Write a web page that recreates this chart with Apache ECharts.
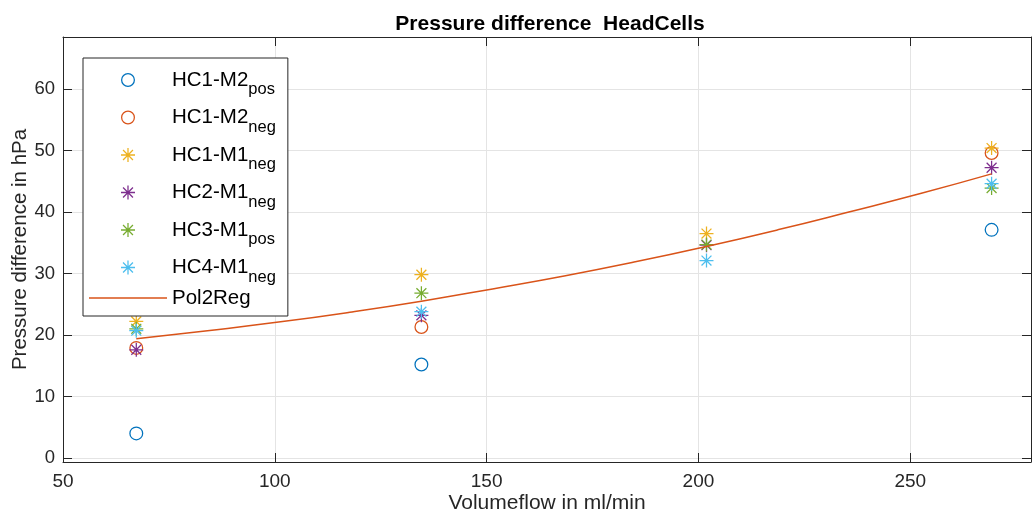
<!DOCTYPE html>
<html><head><meta charset="utf-8">
<script src="https://cdn.jsdelivr.net/npm/echarts@6/dist/echarts.min.js"></script>
<style>html,body{margin:0;padding:0;background:#fff}#c{width:1032px;height:521px}</style>
</head><body><div id="c"></div>
<script>
// ---- data ----
const flows = [67.3, 134.6, 201.9, 269.2];
const seriesBase = ['HC1-M2', 'HC1-M2', 'HC1-M1', 'HC2-M1', 'HC3-M1', 'HC4-M1'];
const seriesSub  = ['pos', 'neg', 'neg', 'neg', 'pos', 'neg'];
const hc1m2pos = [4.0, 15.2, null, 37.1];
const hc1m2neg = [17.9, 21.3, null, 49.6];
const hc1m1neg = [22.2, 29.8, 36.5, 50.4];
const hc2m1neg = [17.6, 23.2, 34.6, 47.2];
const hc3m1pos = [21.0, 26.8, 34.7, 43.9];
const hc4m1neg = [20.7, 23.8, 32.1, 44.6];
const regX = [67.3, 84.1, 100.9, 117.7, 134.6, 151.4, 168.3, 185.1, 201.9, 218.7, 235.5, 252.4, 269.2];
const regY = [19.4, 20.7, 22.1, 23.7, 25.5, 27.5, 29.6, 31.9, 34.4, 37.1, 40.0, 43.0, 46.2];
const regName = 'Pol2Reg';
const xTitle = 'Volumeflow in ml/min';
const yTitle = 'Pressure difference in hPa';
const chartTitle = 'Pressure difference  HeadCells';

// ---- styling ----
const FONT = 'Liberation Sans';
const colors = ['#0072BD', '#D95319', '#EDB120', '#7E2F8E', '#77AC30', '#4DBEEE'];
const RING = 'path://M0 10A10 10 0 1 1 20 10A10 10 0 1 1 0 10ZM1.8 10A8.2 8.2 0 1 0 18.2 10A8.2 8.2 0 1 0 1.8 10Z';
const STAR = 'path://M9.1 0H10.9V20H9.1ZM0 9.1H20V10.9H0ZM3.57 2.29L17.71 16.43L16.43 17.71L2.29 3.57ZM17.71 3.57L3.57 17.71L2.29 16.43L16.43 2.29Z';
const LINEICON = 'path://M0 0H78V1.5H0Z';
const symbols = [RING, RING, STAR, STAR, STAR, STAR];
const values = [hc1m2pos, hc1m2neg, hc1m1neg, hc2m1neg, hc3m1pos, hc4m1neg];

const names = seriesBase.map((b, i) => b + seriesSub[i]);
const richMap = {};
names.forEach((n, i) => { richMap[n] = '{m|' + seriesBase[i] + '}{s|' + seriesSub[i] + '}'; });

const scatterSeries = values.map((vals, i) => ({
  name: names[i],
  type: 'scatter',
  symbol: symbols[i],
  symbolSize: 14,
  itemStyle: { color: colors[i], opacity: 1 },
  emphasis: { disabled: true },
  data: flows.map((x, k) => [x, vals[k]]).filter(p => p[1] !== null)
}));

const lineSeries = {
  name: regName,
  type: 'line',
  smooth: true,
  symbol: 'none',
  lineStyle: { color: '#D95319', width: 1.5 },
  itemStyle: { color: '#D95319' },
  emphasis: { disabled: true },
  data: regX.map((x, k) => [x, regY[k]])
};

const axisCol = '#262626';
const gridCol = '#e4e4e4';

const chart = echarts.init(document.getElementById('c'), null, { renderer: 'canvas' });
chart.setOption({
  animation: false,
  backgroundColor: '#fff',
  title: {
    text: chartTitle, left: 550, top: 14, textAlign: 'center', padding: 0,
    textStyle: { fontFamily: FONT, fontSize: 21, fontWeight: 'bold', color: '#000' }
  },
  grid: { left: 63, right: 1, top: 37, bottom: 59, containLabel: false, outerBoundsMode: 'none' },
  legend: {
    orient: 'vertical', left: 83, top: 58, padding: [4, 12, 7, 6],
    itemWidth: 78, itemHeight: 14, itemGap: 1.5,
    backgroundColor: '#fff', borderColor: axisCol, borderWidth: 1, borderRadius: 0,
    selectedMode: false,
    data: names.map(n => ({ name: n })).concat([{ name: regName, icon: LINEICON, itemStyle: { color: '#D95319' } }]),
    formatter: function (n) { return richMap[n] || n; },
    textStyle: {
      fontFamily: FONT, fontSize: 20.5, lineHeight: 22, color: '#000',
      rich: {
        m: { fontFamily: FONT, fontSize: 20.5, lineHeight: 22, color: '#000' },
        s: { fontFamily: FONT, fontSize: 16.5, lineHeight: 16, padding: [19, 0, 0, 0], color: '#000' }
      }
    }
  },
  xAxis: [{
    type: 'value', min: 50, max: 278.5, interval: 50, position: 'bottom',
    name: xTitle, nameLocation: 'middle', nameGap: 31, nameMoveOverlap: false,
    nameTextStyle: { fontFamily: FONT, fontSize: 21, color: axisCol },
    axisLine: { show: true, onZero: false, lineStyle: { color: axisCol, width: 1 } },
    axisTick: { show: true, inside: true, length: 9, lineStyle: { color: axisCol } },
    axisLabel: { margin: 10, color: axisCol, fontFamily: FONT, fontSize: 19, showMaxLabel: false },
    splitLine: { show: true, lineStyle: { color: gridCol, width: 1 } }
  }, {
    type: 'value', min: 50, max: 278.5, interval: 50, position: 'top',
    axisLine: { show: true, onZero: false, lineStyle: { color: axisCol, width: 1 } },
    axisTick: { show: true, inside: true, length: 9, lineStyle: { color: axisCol } },
    axisLabel: { show: false }, splitLine: { show: false }
  }],
  yAxis: [{
    type: 'value', min: -0.65, max: 68.46, splitNumber: 7, position: 'left',
    name: yTitle, nameLocation: 'middle', nameGap: 32, nameMoveOverlap: false,
    nameTextStyle: { fontFamily: FONT, fontSize: 20.5, color: axisCol },
    axisLine: { show: true, onZero: false, lineStyle: { color: axisCol, width: 1 } },
    axisTick: { show: true, inside: true, length: 9, lineStyle: { color: axisCol } },
    axisLabel: { margin: 8, color: axisCol, fontFamily: FONT, fontSize: 18.5, showMinLabel: false, showMaxLabel: false },
    splitLine: { show: true, lineStyle: { color: gridCol, width: 1 } }
  }, {
    type: 'value', min: -0.65, max: 68.46, splitNumber: 7, position: 'right',
    axisLine: { show: true, onZero: false, lineStyle: { color: axisCol, width: 1 } },
    axisTick: { show: true, inside: true, length: 9, lineStyle: { color: axisCol } },
    axisLabel: { show: false }, splitLine: { show: false }
  }],
  series: scatterSeries.concat([lineSeries])
});
</script>
</body></html>
